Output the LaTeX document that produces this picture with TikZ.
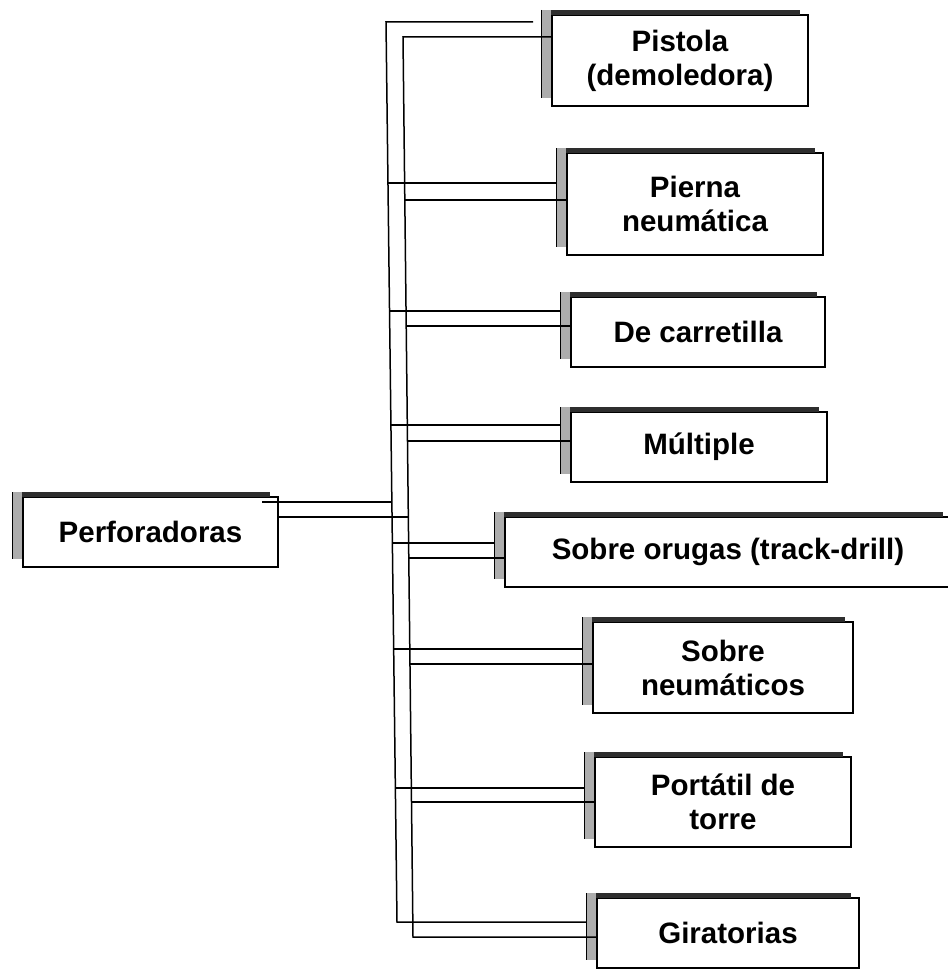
\documentclass[tikz,border=0pt]{standalone}
\usepackage{fontspec}
\setmainfont{Liberation Sans}
\newcommand\drillbox[6]{% name, left, top, width, height, text
  \node[box, minimum width=#4pt, minimum height=#5pt] (#1) at (#2,#3) {#6};
  \fill[sbar] ([xshift=-11pt]#1.north west) rectangle ([xshift=-8pt,yshift=5pt]#1.north east);
  \fill[sstrip] ([xshift=-11pt,yshift=5pt]#1.north west) rectangle ([xshift=-0.9pt,yshift=8pt]#1.south west);
  \draw[sedge] ([xshift=-11pt,yshift=5pt]#1.north west) -- ([xshift=-11pt,yshift=8pt]#1.south west);
  \coordinate (#1s) at ([xshift=-11pt]#1.west);
}
\begin{document}
\begin{tikzpicture}[x=1pt,y=-1pt,
  box/.style={draw, line width=1.7pt, fill=white, inner sep=0pt, outer sep=0pt,
    anchor=north west, align=center,
    font=\bfseries\fontsize{29.5}{34}\selectfont},
  conn/.style={line width=1.5pt},
  sbar/.style={fill=black!82},
  sstrip/.style={fill=black!32},
  sedge/.style={line width=0.6pt}]
\useasboundingbox (0,0) rectangle (947,971);
\fill[white] (0,0) rectangle (947,971);

% boxes
\drillbox{perf}{23}{497}{255}{70}{Perforadoras}
\drillbox{b1}{552}{15}{256}{91}{Pistola\\(demoledora)}
\drillbox{b2}{567}{153}{256}{102}{Pierna\\neumática}
\drillbox{b3}{571}{297}{254}{70}{De carretilla}
\drillbox{b4}{571}{412}{256}{70}{Múltiple}
\drillbox{b5}{505}{517}{446}{70}{Sobre orugas (track-drill)}
\drillbox{b6}{593}{622}{260}{91}{Sobre\\neumáticos}
\drillbox{b7}{595}{757}{256}{90}{Portátil de\\torre}
\drillbox{b8}{597}{898}{262}{70}{Giratorias}

% bus junction points (outer and inner rails)
\coordinate (o1) at (386.0,22);
\coordinate (o2) at (388.0,183);
\coordinate (o3) at (389.5,311);
\coordinate (o4) at (390.9,425);
\coordinate (op) at (391.9,502);
\coordinate (o5) at (392.4,543);
\coordinate (o6) at (393.7,649);
\coordinate (o7) at (395.4,788);
\coordinate (o8) at (397.0,922);
\coordinate (i1) at (403.0,37);
\coordinate (i2) at (404.8,200);
\coordinate (i3) at (406.2,326);
\coordinate (i4) at (407.5,441);
\coordinate (ip) at (408.3,517);
\coordinate (i5) at (408.8,558);
\coordinate (i6) at (410.0,664);
\coordinate (i7) at (411.5,802);
\coordinate (i8) at (413.0,937);

% rails
\draw[conn] ([xshift=-8pt]b1s |- o1) -- (o1) -- (o8) -- (b8s |- o8);
\draw[conn] (b1.west |- i1) -- (i1) -- (i8) -- (b8.west |- i8);

% from Perforadoras
\draw[conn] ([xshift=-16pt]perf.east |- op) -- (op);
\draw[conn] (perf.east |- ip) -- (ip);

% branches
\foreach \k in {2,...,7}{
  \draw[conn] (o\k) -- (b\k s |- o\k);
  \draw[conn] (i\k) -- (b\k.west |- i\k);
}
\end{tikzpicture}
\end{document}
